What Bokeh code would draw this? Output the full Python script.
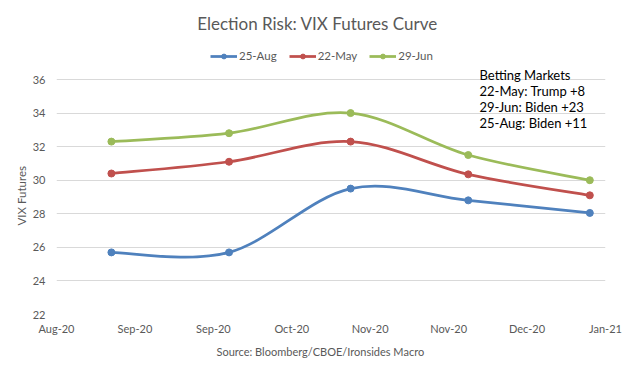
import pandas as pd
from bokeh.plotting import figure
from bokeh.models import (Range1d, FixedTicker, DatetimeTickFormatter, Legend, LegendItem,
                          Label, Title, ColumnDataSource)
from bokeh.embed import file_html
from bokeh.resources import INLINE

# ---- data ----
months = ["2020-09-01", "2020-10-01", "2020-11-01", "2020-12-01", "2021-01-01"]
aug25 = [25.7, 25.7, 29.5, 28.8, 28.05]
may22 = [30.4, 31.1, 32.3, 30.35, 29.1]
jun29 = [32.3, 32.8, 34.0, 31.5, 30.0]
series_names = ["25-Aug", "22-May", "29-Jun"]
series_colors = ["#4f81bd", "#c0504d", "#9bbb59"]
x_ticks = ["2020-08-18", "2020-09-07", "2020-09-27", "2020-10-17",
           "2020-11-06", "2020-11-26", "2020-12-16", "2021-01-05"]
y_ticks = [22, 24, 26, 28, 30, 32, 34, 36]
betting = ["Betting Markets", "22-May: Trump +8", "29-Jun: Biden +23", "25-Aug: Biden +11"]
title_text = "Election Risk: VIX Futures Curve"
source_text = "Source: Bloomberg/CBOE/Ironsides Macro"
y_label = "VIX Futures"


def to_ms(ds):
    return [pd.Timestamp(d).value / 1e6 for d in ds]


xm = to_ms(months)
tick_ms = to_ms(x_ticks)

FONT = "Lato"
GREY = "#595959"
W, H = 632, 366
BL, BR, BT, BB = 56, 27, 0, 52
FH = H - BT - BB            # frame height (page 0 .. 314)
AXIS_PX = 235               # pixels for the 22..36 span
PX0, PY_BOT = BL, BT + FH
y_top = y_ticks[-1] + (y_ticks[-1] - y_ticks[0]) * (FH - AXIS_PX) / AXIS_PX


def sx(page_x):
    return page_x - PX0


def sy(page_y):
    return PY_BOT - page_y


p = figure(width=W, height=H, x_axis_type="datetime", output_backend="svg",
           toolbar_location=None, title=None,
           x_range=Range1d(tick_ms[0], tick_ms[-1]),
           y_range=Range1d(y_ticks[0], y_top),
           min_border_left=BL, min_border_right=BR, min_border_top=BT, min_border_bottom=BB)
p.outline_line_color = None
p.background_fill_color = "white"
p.border_fill_color = "white"

# axes
p.xaxis.ticker = FixedTicker(ticks=tick_ms)
fmt = "%b-%y"
p.xaxis.formatter = DatetimeTickFormatter(milliseconds=fmt, seconds=fmt, minsec=fmt, minutes=fmt,
                                          hourmin=fmt, hours=fmt, days=fmt, months=fmt, years=fmt)
p.yaxis.ticker = FixedTicker(ticks=y_ticks)
for ax in (p.xaxis, p.yaxis):
    ax.axis_line_color = None
    ax.major_tick_line_color = None
    ax.minor_tick_line_color = None
    ax.major_tick_out = 0
    ax.major_tick_in = 0
    ax.minor_tick_out = 0
    ax.minor_tick_in = 0
    ax.major_label_text_font = FONT
    ax.major_label_text_font_size = "11px"
    ax.major_label_text_color = GREY
p.yaxis.major_label_standoff = 11
p.xaxis.major_label_standoff = 7

p.xgrid.grid_line_color = None
p.ygrid.grid_line_color = "#d9d9d9"
p.ygrid.grid_line_width = 1

# smooth curves (Excel-style smoothing via cubic Bezier segments)
items = []
for name, color, ys in zip(series_names, series_colors, [aug25, may22, jun29]):
    n = len(xm)
    x0s, y0s, x1s, y1s, cx0, cy0, cx1, cy1 = ([] for _ in range(8))
    for i in range(n - 1):
        a = max(i - 1, 0)
        d = min(i + 2, n - 1)
        x0s.append(xm[i]); y0s.append(ys[i])
        x1s.append(xm[i + 1]); y1s.append(ys[i + 1])
        cx0.append(xm[i] + (xm[i + 1] - xm[a]) / 6)
        cy0.append(ys[i] + (ys[i + 1] - ys[a]) / 6)
        cx1.append(xm[i + 1] - (xm[d] - xm[i]) / 6)
        cy1.append(ys[i + 1] - (ys[d] - ys[i]) / 6)
    src = ColumnDataSource(dict(x0=x0s, y0=y0s, x1=x1s, y1=y1s, cx0=cx0, cy0=cy0, cx1=cx1, cy1=cy1))
    br = p.bezier(x0="x0", y0="y0", x1="x1", y1="y1", cx0="cx0", cy0="cy0", cx1="cx1", cy1="cy1",
                  source=src, line_color=color, line_width=2.75)
    sr = p.scatter(xm, ys, size=7, marker="circle", fill_color=color, line_color=color)
    items.append(LegendItem(label=name, renderers=[br, sr]))

# legend: location is its bottom-left corner, relative to the frame
legend = Legend(items=items, orientation="horizontal", location=(sx(210), sy(62)),
                label_text_font=FONT, label_text_font_size="11.5px", label_text_color=GREY,
                glyph_width=27, glyph_height=12, label_standoff=2, spacing=12,
                padding=0, margin=0, border_line_color=None, background_fill_color=None)
p.add_layout(legend, "center")

# chart title (inside the extended frame area above the 36 gridline)
p.add_layout(Label(x=sx(317), y=sy(23), x_units="screen", y_units="screen", text=title_text,
                   text_font=FONT, text_font_size="17px", text_color=GREY,
                   text_align="center", text_baseline="middle"))

# y axis title on the left side panel
p.add_layout(Title(text=y_label, align="left", offset=89, text_font=FONT,
                   text_font_size="11.5px", text_font_style="normal", text_color=GREY,
                   standoff=4), "left")
# source note below the x axis
p.add_layout(Title(text=source_text, align="left", offset=160, text_font=FONT,
                   text_font_size="11px", text_font_style="normal", text_color=GREY,
                   standoff=11), "below")

# betting markets text box
for i, t in enumerate(betting):
    p.add_layout(Label(x=sx(479), y=sy(74 + 16.1 * i), x_units="screen", y_units="screen",
                       text=t, text_font=FONT, text_font_size="13px", text_color="#000000",
                       text_baseline="middle"))

open("out.html", "w").write(file_html(p, INLINE))
